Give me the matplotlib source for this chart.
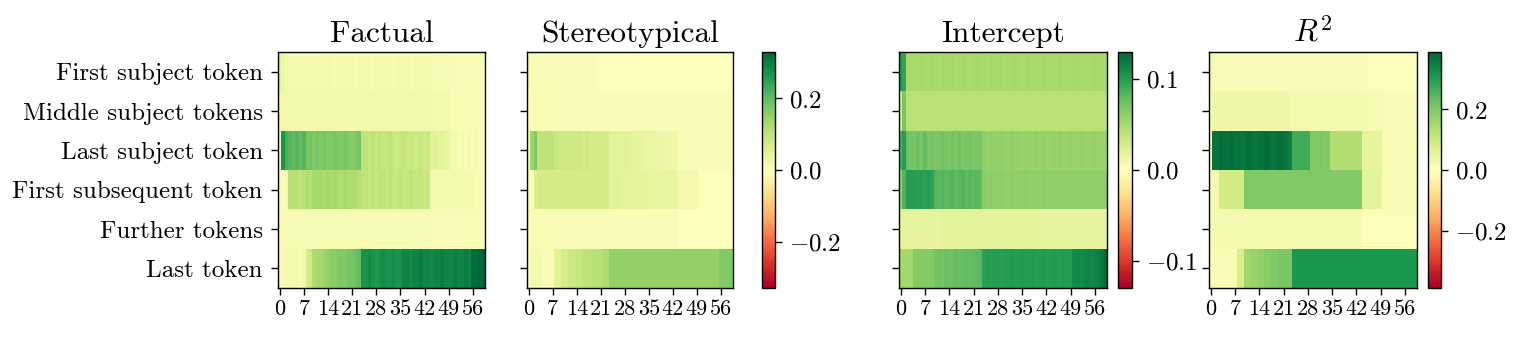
import numpy as np
import matplotlib
matplotlib.use("Agg")
import matplotlib.pyplot as plt

plt.rcParams["font.family"] = "serif"
plt.rcParams["font.serif"] = ["cmr10"]
plt.rcParams["mathtext.fontset"] = "cm"
plt.rcParams["axes.formatter.use_mathtext"] = True

row_labels = ["First subject token", "Middle subject tokens", "Last subject token",
              "First subsequent token", "Further tokens", "Last token"]
titles = ["Factual", "Stereotypical", "Intercept", "$R^2$"]
xticks = [0, 7, 14, 21, 28, 35, 42, 49, 56]

# 6 rows x 60 layers for each panel
factual = [
    [0.05, 0.03, 0.02, 0.02, 0.015, 0.02, 0.02, 0.015, 0.02, 0.02,
     0.02, 0.015, 0.02, 0.02, 0.02, 0.02, 0.015, 0.02, 0.02, 0.02,
     0.02, 0.02, 0.015, 0.02, 0.02, 0.02, 0.02, 0.015, 0.02, 0.02,
     0.02, 0.02, 0.02, 0.015, 0.02, 0.02, 0.02, 0.02, 0.015, 0.02,
     0.02, 0.02, 0.02, 0.02, 0.015, 0.015, 0.015, 0.015, 0.015, 0.015,
     0.012, 0.012, 0.012, 0.012, 0.012, 0.012, 0.012, 0.012, 0.012, 0.012],
    [0.03, 0.022, 0.022, 0.022, 0.022, 0.022, 0.022, 0.022, 0.022, 0.022,
     0.022, 0.022, 0.022, 0.022, 0.022, 0.022, 0.022, 0.022, 0.022, 0.022,
     0.022, 0.022, 0.022, 0.022, 0.022, 0.022, 0.022, 0.022, 0.022, 0.022,
     0.022, 0.022, 0.022, 0.022, 0.022, 0.022, 0.022, 0.022, 0.022, 0.022,
     0.022, 0.022, 0.022, 0.022, 0.02, 0.02, 0.02, 0.02, 0.02, 0.02,
     0.012, 0.012, 0.012, 0.012, 0.012, 0.012, 0.012, 0.012, 0.012, 0.012],
    [0.01, 0.27, 0.22, 0.21, 0.20, 0.21, 0.20, 0.21, 0.18, 0.18,
     0.17, 0.18, 0.17, 0.18, 0.17, 0.17, 0.18, 0.17, 0.17, 0.18,
     0.17, 0.16, 0.17, 0.18, 0.10, 0.10, 0.09, 0.10, 0.09, 0.10,
     0.09, 0.09, 0.10, 0.09, 0.08, 0.09, 0.09, 0.08, 0.09, 0.08,
     0.08, 0.09, 0.08, 0.08, 0.05, 0.05, 0.04, 0.05, 0.04, 0.04,
     0.02, 0.02, 0.01, 0.02, 0.01, 0.02, 0.01, 0.02, 0.01, 0.01],
    [0.01, 0.01, 0.02, 0.11, 0.11, 0.11, 0.10, 0.11, 0.12, 0.11,
     0.13, 0.13, 0.13, 0.12, 0.13, 0.12, 0.13, 0.12, 0.12, 0.13,
     0.12, 0.12, 0.12, 0.11, 0.10, 0.10, 0.09, 0.10, 0.09, 0.10,
     0.10, 0.09, 0.10, 0.09, 0.09, 0.10, 0.09, 0.09, 0.10, 0.09,
     0.09, 0.09, 0.08, 0.09, 0.02, 0.02, 0.02, 0.02, 0.02, 0.02,
     0.02, 0.02, 0.02, 0.02, 0.02, 0.02, 0.02, 0.01, 0.01, 0.01],
    [0.015, 0.015, 0.015, 0.015, 0.015, 0.015, 0.015, 0.015, 0.015, 0.015,
     0.015, 0.015, 0.015, 0.015, 0.015, 0.015, 0.015, 0.015, 0.015, 0.015,
     0.015, 0.015, 0.015, 0.015, 0.015, 0.015, 0.015, 0.015, 0.015, 0.015,
     0.015, 0.015, 0.015, 0.015, 0.015, 0.015, 0.015, 0.015, 0.015, 0.015,
     0.015, 0.015, 0.015, 0.015, 0.008, 0.008, 0.008, 0.008, 0.008, 0.008,
     0.008, 0.008, 0.008, 0.008, 0.008, 0.008, 0.008, 0.008, 0.008, 0.008],
    [0.015, 0.015, 0.02, 0.015, 0.015, 0.02, 0.015, 0.02, 0.07, 0.08,
     0.12, 0.13, 0.13, 0.14, 0.15, 0.16, 0.16, 0.17, 0.17, 0.17,
     0.18, 0.18, 0.19, 0.20, 0.27, 0.27, 0.28, 0.27, 0.26, 0.27,
     0.28, 0.27, 0.27, 0.28, 0.27, 0.27, 0.29, 0.29, 0.28, 0.29,
     0.29, 0.30, 0.29, 0.29, 0.28, 0.29, 0.29, 0.30, 0.29, 0.29,
     0.29, 0.30, 0.29, 0.29, 0.30, 0.29, 0.32, 0.32, 0.33, 0.33],
]

stereotypical = [
    [0.015, 0.008, 0.008, 0.008, 0.008, 0.008, 0.008, 0.008, 0.008, 0.008,
     0.008, 0.008, 0.008, 0.008, 0.008, 0.008, 0.008, 0.008, 0.008, 0.008,
     0.006, 0.006, 0.006, 0.006, 0.006, 0.006, 0.006, 0.006, 0.006, 0.006,
     0.005, 0.005, 0.005, 0.005, 0.005, 0.005, 0.005, 0.005, 0.005, 0.005,
     0.005, 0.005, 0.005, 0.005, 0.005, 0.005, 0.005, 0.005, 0.005, 0.005,
     0.005, 0.005, 0.005, 0.005, 0.005, 0.005, 0.005, 0.005, 0.005, 0.005],
    [0.005, 0.012, 0.012, 0.012, 0.012, 0.012, 0.012, 0.012, 0.012, 0.012,
     0.012, 0.012, 0.012, 0.012, 0.012, 0.012, 0.012, 0.012, 0.012, 0.012,
     0.01, 0.01, 0.01, 0.01, 0.01, 0.01, 0.01, 0.01, 0.01, 0.01,
     0.01, 0.01, 0.01, 0.01, 0.01, 0.01, 0.01, 0.01, 0.01, 0.01,
     0.01, 0.01, 0.01, 0.01, 0.008, 0.008, 0.008, 0.008, 0.008, 0.008,
     0.008, 0.008, 0.008, 0.008, 0.008, 0.008, 0.012, 0.012, 0.012, 0.012],
    [0.005, 0.14, 0.17, 0.10, 0.10, 0.10, 0.10, 0.10, 0.09, 0.08,
     0.08, 0.08, 0.08, 0.08, 0.08, 0.08, 0.07, 0.08, 0.07, 0.07,
     0.07, 0.07, 0.07, 0.07, 0.05, 0.05, 0.05, 0.05, 0.05, 0.045,
     0.045, 0.04, 0.04, 0.04, 0.035, 0.035, 0.035, 0.035, 0.03, 0.03,
     0.03, 0.03, 0.03, 0.03, 0.01, 0.01, 0.01, 0.01, 0.01, 0.01,
     0.01, 0.01, 0.01, 0.01, 0.01, 0.01, 0.01, 0.01, 0.01, 0.01],
    [0.005, 0.01, 0.06, 0.07, 0.07, 0.07, 0.07, 0.07, 0.07, 0.07,
     0.07, 0.07, 0.07, 0.07, 0.07, 0.07, 0.07, 0.07, 0.07, 0.07,
     0.07, 0.07, 0.07, 0.07, 0.05, 0.05, 0.05, 0.045, 0.045, 0.045,
     0.045, 0.045, 0.045, 0.045, 0.045, 0.04, 0.04, 0.04, 0.04, 0.04,
     0.04, 0.04, 0.04, 0.04, 0.02, 0.02, 0.02, 0.02, 0.02, 0.02,
     0.005, 0.005, 0.005, 0.005, 0.005, 0.005, 0.005, 0.005, 0.005, 0.005],
    [0.01, 0.01, 0.01, 0.01, 0.01, 0.01, 0.01, 0.01, 0.01, 0.01,
     0.01, 0.01, 0.01, 0.01, 0.01, 0.01, 0.01, 0.01, 0.01, 0.01,
     0.01, 0.01, 0.01, 0.01, 0.01, 0.01, 0.01, 0.01, 0.01, 0.01,
     0.01, 0.01, 0.01, 0.01, 0.01, 0.01, 0.01, 0.01, 0.01, 0.01,
     0.01, 0.01, 0.01, 0.01, 0.004, 0.004, 0.004, 0.004, 0.004, 0.004,
     0.004, 0.004, 0.004, 0.004, 0.004, 0.004, 0.004, 0.004, 0.004, 0.004],
    [0.005, 0.02, 0.02, 0.02, 0.01, 0.01, 0.01, 0.01, 0.05, 0.05,
     0.07, 0.07, 0.08, 0.08, 0.09, 0.09, 0.10, 0.10, 0.10, 0.11,
     0.11, 0.11, 0.12, 0.12, 0.15, 0.15, 0.15, 0.15, 0.15, 0.15,
     0.15, 0.15, 0.15, 0.15, 0.15, 0.15, 0.15, 0.15, 0.15, 0.15,
     0.15, 0.15, 0.15, 0.15, 0.15, 0.15, 0.15, 0.15, 0.15, 0.15,
     0.15, 0.15, 0.15, 0.15, 0.15, 0.15, 0.17, 0.17, 0.17, 0.17],
]

intercept = [
    [0.10, 0.095, 0.05, 0.051, 0.049, 0.05, 0.052, 0.05, 0.049, 0.051,
     0.05, 0.049, 0.051, 0.05, 0.05, 0.052, 0.049, 0.05, 0.051, 0.05,
     0.049, 0.05, 0.051, 0.05, 0.05, 0.049, 0.051, 0.05, 0.05, 0.051,
     0.049, 0.05, 0.05, 0.051, 0.05, 0.049, 0.05, 0.051, 0.05, 0.049,
     0.05, 0.051, 0.05, 0.05, 0.049, 0.05, 0.051, 0.05, 0.049, 0.05,
     0.05, 0.051, 0.05, 0.049, 0.05, 0.05, 0.051, 0.05, 0.05, 0.05],
    [0.027, 0.07, 0.042, 0.042, 0.042, 0.042, 0.042, 0.042, 0.042, 0.042,
     0.042, 0.042, 0.042, 0.042, 0.042, 0.042, 0.042, 0.042, 0.042, 0.042,
     0.042, 0.042, 0.042, 0.042, 0.042, 0.042, 0.042, 0.042, 0.042, 0.042,
     0.042, 0.042, 0.042, 0.042, 0.042, 0.042, 0.042, 0.042, 0.042, 0.042,
     0.042, 0.042, 0.042, 0.042, 0.042, 0.042, 0.042, 0.042, 0.042, 0.042,
     0.042, 0.042, 0.042, 0.042, 0.042, 0.042, 0.042, 0.042, 0.042, 0.042],
    [0.085, 0.10, 0.075, 0.072, 0.07, 0.074, 0.07, 0.078, 0.07, 0.072,
     0.068, 0.07, 0.075, 0.07, 0.068, 0.072, 0.07, 0.074, 0.068, 0.07,
     0.072, 0.068, 0.07, 0.07, 0.06, 0.058, 0.06, 0.058, 0.058, 0.06,
     0.058, 0.058, 0.06, 0.058, 0.058, 0.056, 0.058, 0.058, 0.056, 0.058,
     0.056, 0.058, 0.056, 0.056, 0.058, 0.056, 0.058, 0.056, 0.056, 0.058,
     0.056, 0.056, 0.058, 0.056, 0.056, 0.056, 0.058, 0.056, 0.056, 0.056],
    [0.055, 0.085, 0.10, 0.10, 0.10, 0.098, 0.10, 0.098, 0.10, 0.096,
     0.084, 0.082, 0.084, 0.08, 0.082, 0.084, 0.08, 0.082, 0.084, 0.08,
     0.082, 0.08, 0.082, 0.08, 0.062, 0.06, 0.062, 0.06, 0.06, 0.062,
     0.06, 0.06, 0.062, 0.06, 0.06, 0.06, 0.062, 0.06, 0.06, 0.06,
     0.06, 0.062, 0.06, 0.06, 0.06, 0.06, 0.06, 0.06, 0.06, 0.06,
     0.06, 0.06, 0.06, 0.06, 0.06, 0.06, 0.06, 0.06, 0.06, 0.06],
    [0.017, 0.017, 0.017, 0.017, 0.017, 0.017, 0.017, 0.017, 0.017, 0.017,
     0.017, 0.017, 0.019, 0.019, 0.019, 0.019, 0.019, 0.019, 0.019, 0.019,
     0.019, 0.019, 0.019, 0.019, 0.019, 0.019, 0.019, 0.019, 0.019, 0.019,
     0.019, 0.019, 0.019, 0.019, 0.019, 0.019, 0.019, 0.019, 0.019, 0.019,
     0.017, 0.017, 0.017, 0.017, 0.017, 0.017, 0.017, 0.017, 0.017, 0.017,
     0.017, 0.017, 0.017, 0.017, 0.017, 0.017, 0.017, 0.017, 0.017, 0.017],
    [0.052, 0.052, 0.052, 0.052, 0.064, 0.066, 0.064, 0.066, 0.064, 0.066,
     0.072, 0.074, 0.072, 0.076, 0.074, 0.076, 0.078, 0.076, 0.078, 0.08,
     0.078, 0.08, 0.08, 0.082, 0.098, 0.10, 0.098, 0.10, 0.10, 0.098,
     0.10, 0.10, 0.102, 0.10, 0.10, 0.102, 0.10, 0.10, 0.102, 0.10,
     0.10, 0.102, 0.10, 0.10, 0.102, 0.10, 0.10, 0.102, 0.10, 0.10,
     0.11, 0.112, 0.11, 0.112, 0.114, 0.112, 0.114, 0.116, 0.12, 0.128],
]

r_squared = [
    [0.03, 0.012, 0.012, 0.012, 0.012, 0.012, 0.012, 0.012, 0.012, 0.012,
     0.012, 0.012, 0.012, 0.012, 0.012, 0.012, 0.012, 0.012, 0.012, 0.012,
     0.012, 0.012, 0.012, 0.012, 0.01, 0.01, 0.01, 0.01, 0.01, 0.01,
     0.01, 0.01, 0.01, 0.01, 0.01, 0.01, 0.01, 0.01, 0.01, 0.01,
     0.01, 0.01, 0.01, 0.01, 0.008, 0.008, 0.008, 0.008, 0.008, 0.008,
     0.008, 0.008, 0.008, 0.008, 0.008, 0.008, 0.008, 0.008, 0.008, 0.008],
    [0.01, 0.035, 0.035, 0.035, 0.035, 0.035, 0.035, 0.035, 0.035, 0.035,
     0.035, 0.035, 0.035, 0.035, 0.035, 0.035, 0.035, 0.035, 0.035, 0.035,
     0.035, 0.035, 0.035, 0.022, 0.022, 0.022, 0.022, 0.022, 0.022, 0.022,
     0.022, 0.022, 0.022, 0.022, 0.022, 0.022, 0.022, 0.022, 0.022, 0.022,
     0.022, 0.022, 0.022, 0.022, 0.018, 0.018, 0.018, 0.018, 0.018, 0.018,
     0.012, 0.012, 0.012, 0.012, 0.012, 0.012, 0.012, 0.012, 0.012, 0.012],
    [0.01, 0.37, 0.37, 0.38, 0.37, 0.37, 0.38, 0.37, 0.37, 0.36,
     0.37, 0.38, 0.37, 0.36, 0.37, 0.37, 0.38, 0.37, 0.36, 0.37,
     0.38, 0.37, 0.36, 0.35, 0.27, 0.27, 0.27, 0.27, 0.27, 0.20,
     0.20, 0.20, 0.21, 0.20, 0.20, 0.14, 0.14, 0.14, 0.14, 0.14,
     0.14, 0.14, 0.14, 0.14, 0.05, 0.05, 0.05, 0.05, 0.05, 0.05,
     0.015, 0.015, 0.015, 0.015, 0.015, 0.015, 0.015, 0.015, 0.015, 0.015],
    [0.02, 0.02, 0.02, 0.09, 0.09, 0.09, 0.09, 0.09, 0.09, 0.09,
     0.20, 0.20, 0.20, 0.20, 0.20, 0.20, 0.20, 0.20, 0.20, 0.20,
     0.20, 0.20, 0.20, 0.20, 0.20, 0.20, 0.20, 0.20, 0.20, 0.20,
     0.20, 0.20, 0.20, 0.20, 0.20, 0.20, 0.20, 0.20, 0.20, 0.20,
     0.20, 0.20, 0.20, 0.20, 0.055, 0.055, 0.055, 0.055, 0.055, 0.055,
     0.015, 0.015, 0.015, 0.015, 0.015, 0.015, 0.015, 0.015, 0.015, 0.015],
    [0.022, 0.022, 0.022, 0.022, 0.022, 0.022, 0.022, 0.022, 0.022, 0.022,
     0.022, 0.022, 0.022, 0.022, 0.022, 0.022, 0.022, 0.022, 0.022, 0.022,
     0.022, 0.022, 0.022, 0.022, 0.022, 0.022, 0.022, 0.022, 0.022, 0.022,
     0.022, 0.022, 0.022, 0.022, 0.022, 0.022, 0.022, 0.022, 0.022, 0.022,
     0.022, 0.022, 0.022, 0.022, 0.008, 0.008, 0.008, 0.008, 0.008, 0.008,
     0.008, 0.008, 0.008, 0.008, 0.008, 0.008, 0.008, 0.008, 0.008, 0.008],
    [0.015, 0.015, 0.015, 0.015, 0.015, 0.015, 0.015, 0.015, 0.08, 0.08,
     0.16, 0.16, 0.17, 0.17, 0.18, 0.18, 0.19, 0.19, 0.20, 0.20,
     0.21, 0.21, 0.21, 0.21, 0.31, 0.31, 0.31, 0.31, 0.31, 0.31,
     0.31, 0.31, 0.31, 0.31, 0.31, 0.31, 0.31, 0.31, 0.31, 0.31,
     0.31, 0.31, 0.31, 0.31, 0.31, 0.31, 0.31, 0.31, 0.31, 0.31,
     0.31, 0.31, 0.31, 0.31, 0.31, 0.31, 0.31, 0.31, 0.31, 0.31],
]

limits = [0.33, 0.33, 0.13, 0.39]
cbar_ticks = [[-0.2, 0.0, 0.2], [-0.2, 0.0, 0.2], [-0.1, 0.0, 0.1], [-0.2, 0.0, 0.2]]

W, H = 1523, 338
fig = plt.figure(figsize=(W / 100, H / 100), dpi=100)

def px_axes(x0, x1, y0=52, y1=288):
    return fig.add_axes([x0 / W, 1 - y1 / H, (x1 - x0) / W, (y1 - y0) / H])

panel_px = [(278, 485), (527, 733), (899, 1107), (1209, 1417)]
cbar_px = {1: (762, 775), 2: (1118, 1132), 3: (1428, 1441)}

for i, data in enumerate([factual, stereotypical, intercept, r_squared]):
    ax = px_axes(*panel_px[i])
    im = ax.imshow(np.array(data), cmap="RdYlGn", vmin=-limits[i], vmax=limits[i],
                   aspect="auto", interpolation="nearest")
    ax.set_title(titles[i], fontsize=22.5, pad=7)
    ax.set_xticks(xticks)
    ax.set_xticklabels([str(t) for t in xticks], fontsize=16)
    ax.set_yticks(range(len(row_labels)))
    if i == 0:
        ax.set_yticklabels(row_labels, fontsize=18)
    else:
        ax.set_yticklabels([])
    ax.tick_params(axis="y", length=5, width=1, pad=6)
    ax.tick_params(axis="x", length=5, width=1, pad=3)
    for s in ax.spines.values():
        s.set_linewidth(1)
    if i in cbar_px:
        cax = px_axes(*cbar_px[i])
        cb = fig.colorbar(im, cax=cax)
        cb.set_ticks(cbar_ticks[i])
        cb.ax.tick_params(labelsize=18, length=5, width=1, pad=5)
        cb.outline.set_linewidth(1)

fig.savefig("out.png", dpi=100)
